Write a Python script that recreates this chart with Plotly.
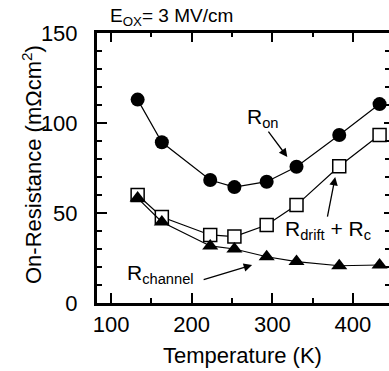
import plotly.graph_objects as go

temps = [133, 163, 223, 253, 293, 330, 383, 433]
r_on = [113, 89.3, 68.3, 64.4, 67.4, 75.7, 93.3, 110.5]
r_drift_c = [60, 47.8, 37.8, 36.9, 43.3, 54.4, 76, 93.3]
r_channel = [58.3, 45, 31.7, 30, 25.7, 23, 20.7, 21.1]

x_ticks = [100, 200, 300, 400]
y_ticks = [0, 50, 100, 150]

FONT = "Arial, 'Liberation Sans', Helvetica, sans-serif"
XR = [82.6, 444.7]
YR = [0, 150]

fig = go.Figure()
fig.add_trace(go.Scatter(x=temps, y=r_on, mode="lines+markers",
                         line=dict(color="black", width=1.2),
                         marker=dict(symbol="circle", size=14, color="black")))
fig.add_trace(go.Scatter(x=temps, y=r_drift_c, mode="lines+markers",
                         line=dict(color="black", width=1.2),
                         marker=dict(symbol="square", size=13, color="white",
                                     line=dict(color="black", width=1.5))))
fig.add_trace(go.Scatter(x=temps, y=r_channel, mode="lines+markers",
                         line=dict(color="black", width=1.2),
                         marker=dict(symbol="triangle-up", size=14, color="black")))
# invisible trace for mirrored axes
fig.add_trace(go.Scatter(x=[XR[0]], y=[YR[0]], xaxis="x2", yaxis="y2",
                         mode="markers", marker=dict(opacity=0), hoverinfo="skip"))

tickfont = dict(family=FONT, size=22, color="black")
fig.update_layout(
    width=389, height=371,
    margin=dict(l=97, r=0, t=33, b=68),
    paper_bgcolor="white", plot_bgcolor="white",
    showlegend=False,
    font=dict(family=FONT, color="black"),
    xaxis=dict(range=XR, tickvals=x_ticks, ticks="inside", ticklen=10, tickwidth=2,
               tickcolor="black", showline=True, linewidth=3, linecolor="black",
               showgrid=False, zeroline=False, tickfont=tickfont,
               minor=dict(tickvals=[150, 250, 350], ticks="inside", ticklen=5,
                          tickwidth=2, tickcolor="black")),
    yaxis=dict(range=YR, tickvals=y_ticks, ticks="inside", ticklen=10, tickwidth=2,
               tickcolor="black", showline=True, linewidth=3, linecolor="black",
               showgrid=False, zeroline=False, tickfont=tickfont, ticklabelstandoff=12,
               minor=dict(dtick=10, tick0=0, ticks="inside", ticklen=5,
                          tickwidth=2, tickcolor="black")),
    xaxis2=dict(range=XR, overlaying="x", side="top", tickvals=x_ticks, ticks="inside",
                ticklen=9, tickwidth=2, tickcolor="black", showline=True,
                linewidth=3, linecolor="black", showticklabels=False,
                showgrid=False, zeroline=False,
                minor=dict(tickvals=[150, 250, 350], ticks="inside", ticklen=4,
                           tickwidth=2, tickcolor="black")),
    yaxis2=dict(range=YR, overlaying="y", side="right", tickvals=y_ticks, ticks="inside",
                ticklen=5, tickwidth=2, tickcolor="black", showline=False,
                showticklabels=False, showgrid=False, zeroline=False,
                minor=dict(dtick=10, tick0=0, ticks="inside", ticklen=4,
                           tickwidth=2, tickcolor="black")),
)

ann = []
# axis titles
ann.append(dict(text="On-Resistance (mΩcm<sup>2</sup>)", xref="paper", yref="paper",
                x=(32 - 97) / 292, y=(303 - 165) / 270, textangle=-90,
                xanchor="center", yanchor="middle", showarrow=False,
                font=dict(family=FONT, size=22, color="black")))
ann.append(dict(text="Temperature (K)", xref="paper", yref="paper",
                x=(242 - 97) / 292, y=-(355 - 303) / 270,
                xanchor="center", yanchor="middle", showarrow=False,
                font=dict(family=FONT, size=22, color="black")))
ann.append(dict(text="E<sub>OX</sub>= 3 MV/cm", xref="paper", yref="paper",
                x=(108 - 97) / 292, y=(303 - 17) / 270,
                xanchor="left", yanchor="middle", showarrow=False,
                font=dict(family=FONT, size=19, color="black")))
# labels
lab_font = dict(family=FONT, size=21, color="black")
ann.append(dict(text="R<sub>on</sub>", x=266.5, y=103, xref="x", yref="y",
                xanchor="left", yanchor="middle", showarrow=False, font=lab_font))
ann.append(dict(text="R<sub>drift</sub> + R<sub>c</sub>", x=313.7, y=40.5, xref="x", yref="y",
                xanchor="left", yanchor="middle", showarrow=False, font=lab_font))
ann.append(dict(text="R<sub>channel</sub>", x=117.4, y=16, xref="x", yref="y",
                xanchor="left", yanchor="middle", showarrow=False, font=lab_font))
# arrows
for (x0, y0, x1, y1) in [(293.8, 96.1, 318.6, 81.1), (368, 47.2, 378, 70),
                         (213, 12.8, 275, 21.1)]:
    ann.append(dict(text="", x=x1, y=y1, ax=x0, ay=y0, xref="x", yref="y",
                    axref="x", ayref="y", showarrow=True, arrowhead=2,
                    arrowsize=1.3, arrowwidth=1.3, arrowcolor="black", standoff=0))
fig.update_layout(annotations=ann)

fig.write_html("out.html")
